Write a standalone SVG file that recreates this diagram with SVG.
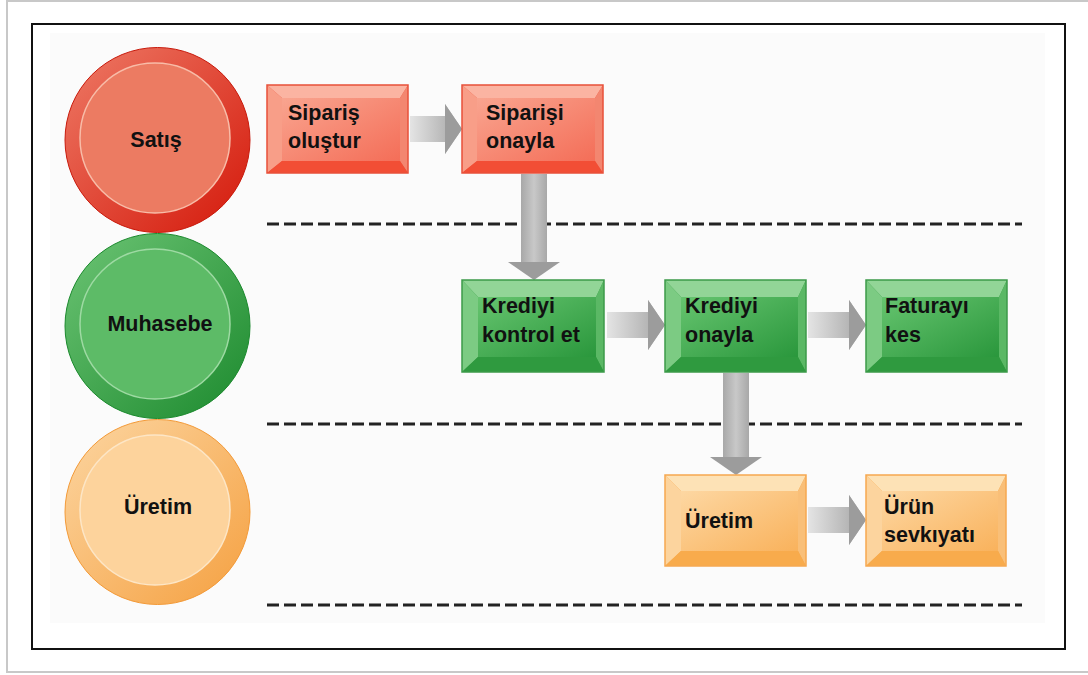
<svg xmlns="http://www.w3.org/2000/svg" width="1088" height="675" viewBox="0 0 1088 675">
<defs>
<style>
.lbl{font-family:"Liberation Sans",Arial,sans-serif;font-weight:bold;font-size:21.5px;fill:#111}
.dash{stroke:#222;stroke-width:3;stroke-dasharray:12 5;fill:none}
</style>
<linearGradient id="ringR" x1="0" y1="0" x2="1" y2="1"><stop offset="0" stop-color="#ee7a66"/><stop offset="1" stop-color="#d4180a"/></linearGradient>
<linearGradient id="ringG" x1="0" y1="0" x2="1" y2="1"><stop offset="0" stop-color="#6cc474"/><stop offset="1" stop-color="#1c8a2e"/></linearGradient>
<linearGradient id="ringO" x1="0" y1="0" x2="1" y2="1"><stop offset="0" stop-color="#fcd6a2"/><stop offset="1" stop-color="#f5a040"/></linearGradient>
<linearGradient id="faceR" x1="0" y1="0" x2="1" y2="1"><stop offset="0" stop-color="#f9a48f"/><stop offset="1" stop-color="#f46e58"/></linearGradient>
<linearGradient id="faceG" x1="0" y1="0" x2="1" y2="1"><stop offset="0" stop-color="#66c46f"/><stop offset="1" stop-color="#2a973c"/></linearGradient>
<linearGradient id="faceO" x1="0" y1="0" x2="1" y2="1"><stop offset="0" stop-color="#fdd7a2"/><stop offset="1" stop-color="#f9b25c"/></linearGradient>
<linearGradient id="shH" x1="0" y1="0" x2="1" y2="0"><stop offset="0" stop-color="#e4e4e4"/><stop offset="1" stop-color="#a2a2a2"/></linearGradient>
<linearGradient id="shV" x1="0" y1="0" x2="1" y2="0"><stop offset="0" stop-color="#a8a8a8"/><stop offset="0.5" stop-color="#c8c8c8"/><stop offset="1" stop-color="#a8a8a8"/></linearGradient>
</defs>
<rect x="7" y="1" width="1090" height="671" fill="#fff" stroke="#c8c8c8" stroke-width="2"/>
<rect x="32" y="24" width="1033" height="625" fill="#fff" stroke="#111" stroke-width="2"/>
<rect x="50" y="33" width="995" height="590" fill="#fbfbfb"/>

<g id="lanes">
<line class="dash" x1="267" y1="224" x2="1022" y2="224"/>
<line class="dash" x1="267" y1="424" x2="1022" y2="424"/>
<line class="dash" x1="267" y1="605" x2="1022" y2="605"/>
</g>

<g id="lane-satis">
<circle cx="157.5" cy="140" r="92.5" fill="url(#ringR)" stroke="#c81a0c" stroke-width="1"/>
<circle cx="155" cy="138" r="75" fill="#ec7b62" stroke="#f8bca8" stroke-width="1.5"/>
<text class="lbl" x="156" y="147" text-anchor="middle">Satış</text>
</g>
<g id="lane-muhasebe">
<circle cx="157.5" cy="326" r="92.5" fill="url(#ringG)" stroke="#1c8a2e" stroke-width="1"/>
<circle cx="155" cy="324" r="75" fill="#5dbb67" stroke="#9edaa3" stroke-width="1.5"/>
<text class="lbl" x="160" y="331" text-anchor="middle">Muhasebe</text>
</g>
<g id="lane-uretim">
<circle cx="157.5" cy="512" r="92.5" fill="url(#ringO)" stroke="#f39a38" stroke-width="1"/>
<circle cx="155" cy="510" r="75" fill="#fdd39c" stroke="#fde6c6" stroke-width="1.5"/>
<text class="lbl" x="158" y="514" text-anchor="middle">Üretim</text>
</g>

<g id="connectors">
<path d="M410 116 H445 V104 L462 129 L445 154 V142 H410 Z" fill="url(#shH)"/>
<path d="M445 104 L462 129 L445 154 Z" fill="#9c9c9c"/>
<path d="M607 312 H648 V300 L665 325 L648 350 V338 H607 Z" fill="url(#shH)"/>
<path d="M648 300 L665 325 L648 350 Z" fill="#9c9c9c"/>
<path d="M808 312 H849 V300 L866 325 L849 350 V338 H808 Z" fill="url(#shH)"/>
<path d="M849 300 L866 325 L849 350 Z" fill="#9c9c9c"/>
<path d="M808 507 H849 V495 L866 520 L849 545 V533 H808 Z" fill="url(#shH)"/>
<path d="M849 495 L866 520 L849 545 Z" fill="#9c9c9c"/>
<rect x="521" y="174" width="26" height="88" fill="url(#shV)"/>
<path d="M508 262 H560 L534 280 Z" fill="#9c9c9c"/>
<rect x="723" y="373" width="26" height="84" fill="url(#shV)"/>
<path d="M710 457 H762 L736 475 Z" fill="#9c9c9c"/>
</g>

<g id="n-siparis-olustur">
<rect x="267" y="85" width="141" height="88" fill="#f05a44"/>
<polygon points="267,85 408,85 400,98 282,98" fill="#fbb4a2"/>
<polygon points="267,85 282,98 282,161 267,173" fill="#f89e88"/>
<polygon points="408,85 408,173 400,161 400,98" fill="#f38670"/>
<polygon points="267,173 282,161 400,161 408,173" fill="#f24e35"/>
<rect x="282" y="98" width="118" height="63" fill="url(#faceR)"/>
<rect x="267" y="85" width="141" height="88" fill="none" stroke="#e8503a" stroke-width="1.5"/>
<text class="lbl" x="288" y="120">Sipariş</text>
<text class="lbl" x="288" y="148">oluştur</text>
</g>
<g id="n-siparisi-onayla">
<rect x="462" y="85" width="141" height="88" fill="#f05a44"/>
<polygon points="462,85 603,85 595,98 477,98" fill="#fbb4a2"/>
<polygon points="462,85 477,98 477,161 462,173" fill="#f89e88"/>
<polygon points="603,85 603,173 595,161 595,98" fill="#f38670"/>
<polygon points="462,173 477,161 595,161 603,173" fill="#f24e35"/>
<rect x="477" y="98" width="118" height="63" fill="url(#faceR)"/>
<rect x="462" y="85" width="141" height="88" fill="none" stroke="#e8503a" stroke-width="1.5"/>
<text class="lbl" x="486" y="120">Siparişi</text>
<text class="lbl" x="486" y="148">onayla</text>
</g>

<g id="n-krediyi-kontrol">
<rect x="462" y="280" width="142" height="92" fill="#3a9e48"/>
<polygon points="462,280 604,280 596,297 478,297" fill="#92d597"/>
<polygon points="462,280 478,297 478,357 462,372" fill="#7ccb83"/>
<polygon points="604,280 604,372 596,357 596,297" fill="#5bb865"/>
<polygon points="462,372 478,357 596,357 604,372" fill="#2f9a3f"/>
<rect x="478" y="297" width="118" height="60" fill="url(#faceG)"/>
<rect x="462" y="280" width="142" height="92" fill="none" stroke="#3c9a4a" stroke-width="1.5"/>
<text class="lbl" x="482" y="313">Krediyi</text>
<text class="lbl" x="482" y="342">kontrol et</text>
</g>
<g id="n-krediyi-onayla">
<rect x="665" y="280" width="141" height="92" fill="#3a9e48"/>
<polygon points="665,280 806,280 798,297 681,297" fill="#92d597"/>
<polygon points="665,280 681,297 681,357 665,372" fill="#7ccb83"/>
<polygon points="806,280 806,372 798,357 798,297" fill="#5bb865"/>
<polygon points="665,372 681,357 798,357 806,372" fill="#2f9a3f"/>
<rect x="681" y="297" width="117" height="60" fill="url(#faceG)"/>
<rect x="665" y="280" width="141" height="92" fill="none" stroke="#3c9a4a" stroke-width="1.5"/>
<text class="lbl" x="685" y="313">Krediyi</text>
<text class="lbl" x="685" y="342">onayla</text>
</g>
<g id="n-faturayi-kes">
<rect x="866" y="280" width="141" height="92" fill="#3a9e48"/>
<polygon points="866,280 1007,280 999,297 882,297" fill="#92d597"/>
<polygon points="866,280 882,297 882,357 866,372" fill="#7ccb83"/>
<polygon points="1007,280 1007,372 999,357 999,297" fill="#5bb865"/>
<polygon points="866,372 882,357 999,357 1007,372" fill="#2f9a3f"/>
<rect x="882" y="297" width="117" height="60" fill="url(#faceG)"/>
<rect x="866" y="280" width="141" height="92" fill="none" stroke="#3c9a4a" stroke-width="1.5"/>
<text class="lbl" x="885" y="313">Faturayı</text>
<text class="lbl" x="885" y="342">kes</text>
</g>

<g id="n-uretim">
<rect x="665" y="475" width="141" height="91" fill="#f7a84a"/>
<polygon points="665,475 806,475 798,491 681,491" fill="#fde2b6"/>
<polygon points="665,475 681,491 681,551 665,566" fill="#fcd49e"/>
<polygon points="806,475 806,566 798,551 798,491" fill="#f9bf78"/>
<polygon points="665,566 681,551 798,551 806,566" fill="#f8ab4c"/>
<rect x="681" y="491" width="117" height="60" fill="url(#faceO)"/>
<rect x="665" y="475" width="141" height="91" fill="none" stroke="#f6a850" stroke-width="1.5"/>
<text class="lbl" x="685" y="528">Üretim</text>
</g>
<g id="n-urun-sevkiyati">
<rect x="866" y="475" width="140" height="91" fill="#f7a84a"/>
<polygon points="866,475 1006,475 998,491 882,491" fill="#fde2b6"/>
<polygon points="866,475 882,491 882,551 866,566" fill="#fcd49e"/>
<polygon points="1006,475 1006,566 998,551 998,491" fill="#f9bf78"/>
<polygon points="866,566 882,551 998,551 1006,566" fill="#f8ab4c"/>
<rect x="882" y="491" width="116" height="60" fill="url(#faceO)"/>
<rect x="866" y="475" width="140" height="91" fill="none" stroke="#f6a850" stroke-width="1.5"/>
<text class="lbl" x="884" y="514">Ürün</text>
<text class="lbl" x="884" y="542">sevkıyatı</text>
</g>
</svg>
